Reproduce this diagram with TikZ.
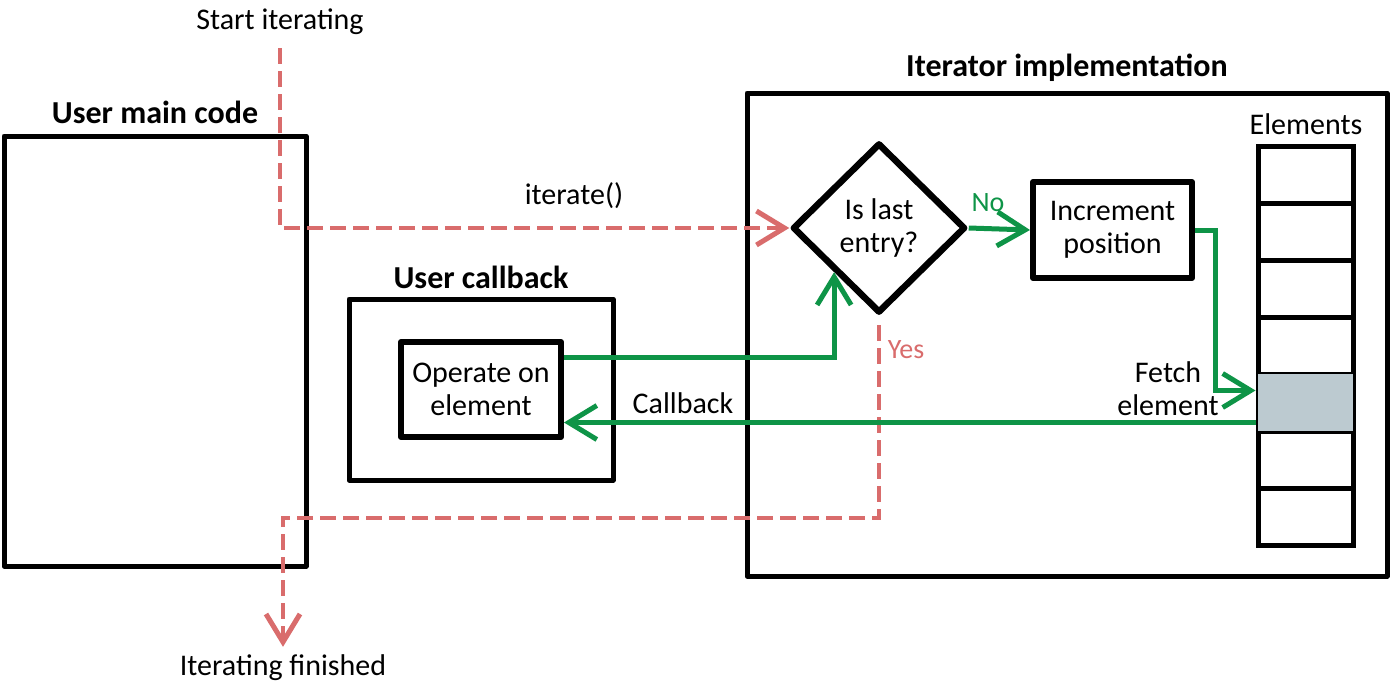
\documentclass[tikz,border=0pt]{standalone}
\usepackage{fontspec}
\setmainfont{Carlito}
\usetikzlibrary{shapes.geometric,arrows.meta,calc}
\definecolor{rd}{HTML}{D96C6C}
\definecolor{gr}{HTML}{0E9447}
\definecolor{cellfill}{HTML}{BCCAD0}
\begin{document}
\begin{tikzpicture}[x=1pt,y=-1pt,
  box/.style={draw=black, line width=5pt, line join=round, inner sep=0pt, align=center, font=\fontsize{30}{33}\selectfont},
  cellbox/.style={draw=black, line width=5pt, inner sep=0pt, minimum width=95pt, minimum height=57pt},
  ttl/.style={font=\bfseries\fontsize{32}{36}\selectfont, inner sep=0pt},
  lbl/.style={font=\fontsize{30}{33}\selectfont, inner sep=0pt, align=center},
  smalllbl/.style={font=\fontsize{28}{32}\selectfont, inner sep=0pt},
  redline/.style={draw=rd, line width=4pt, dash pattern=on 16pt off 7pt},
  greenline/.style={draw=gr, line width=5pt},
  tip/.style={-{Straight Barb[length=28pt,width=34pt,line width=5pt]}}
]
\fill[white] (0,0) rectangle (1390,694);
\useasboundingbox (0,0) rectangle (1390,694);

% main boxes
\node[box, minimum width=302pt, minimum height=430pt] (main) at (155,351) {};
\node[ttl] (maint) at (155,112) {User main code};

\node[box, minimum width=264pt, minimum height=181pt] (cb) at (481,389.5) {};
\node[ttl] (cbt) at (481,277) {User callback};
\node[box, minimum width=160pt, minimum height=95pt, line width=6pt] (op) at (481,389.5) {Operate on\\element};

\node[box, minimum width=640pt, minimum height=483pt] (it) at (1067,334.5) {};
\node[ttl] (itt) at (1067,68) {Iterator implementation};

\node[box, diamond, line width=6.5pt, minimum width=173pt, minimum height=170pt] (dia) at (879,228) {Is last\\entry?};
\node[box, minimum width=159pt, minimum height=96pt, line width=6pt] (inc) at (1112.5,230) {Increment\\position};

% elements column
\foreach \k in {1,...,7} {
  \node[cellbox] (c\k) at (1305.5,{146+57*(\k-1)+28.5}) {};
}
\fill[cellfill] ([xshift=2.5pt,yshift=-2.5pt]c5.north west) rectangle ([xshift=-2.5pt,yshift=2.5pt]c5.south east);
\node[lbl] (elt) at (1306,124) {Elements};

% labels
\node[lbl] (start) at (280,22) {Start iterating};
\node[lbl] (fin) at (283,668) {Iterating finished};
\node[lbl] (itlbl) at (574,196) {iterate()};
\node[smalllbl, text=gr] (no) at (988,203) {No};
\node[smalllbl, text=rd] (yes) at (906,350) {Yes};
\node[lbl] (cblbl) at (683,403) {Callback};
\node[lbl] (fetch) at (1168,389) {Fetch\\element};

% red dashed flow
\draw[redline, tip] ([yshift=-13pt]start.south) |- (dia.west);
\coordinate (r2) at (283,518);
\draw[redline, tip] ([yshift=-9pt]dia.south) |- (r2) -- ([yshift=8pt]fin.north);

% green flow
\draw[greenline, tip] ([yshift=32pt]op.east) -| (dia.south west);
\draw[greenline, tip] (dia.east) -- (inc.west);
\draw[greenline, tip] (inc.east) -- ++(20,0) |- ([yshift=12pt]c5.west);
\coordinate (cbs) at ([yshift=-20pt]c5.west);
\draw[greenline, tip] (cbs) -- (cbs -| op.east);
\end{tikzpicture}
\end{document}
